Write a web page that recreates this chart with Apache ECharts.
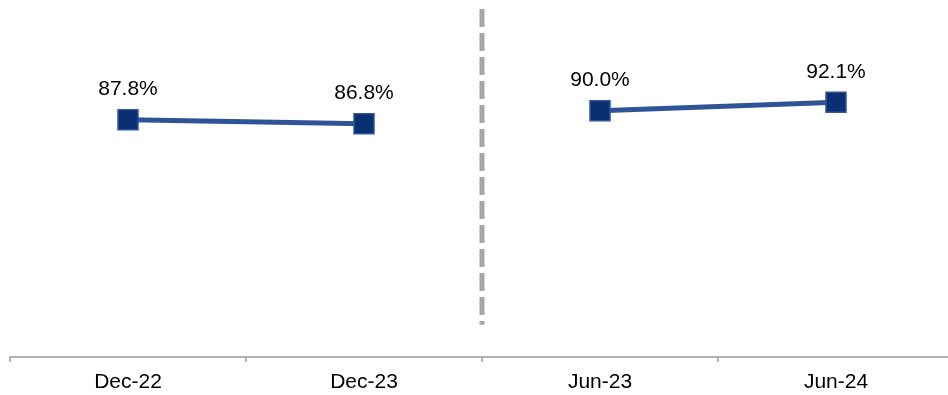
<!DOCTYPE html>
<html>
<head>
<meta charset="utf-8">
<script src="https://cdn.jsdelivr.net/npm/echarts@6/dist/echarts.min.js"></script>
<style>
  html, body { margin: 0; padding: 0; background: #fff; }
  #chart { width: 948px; height: 395px; }
</style>
</head>
<body>
<div id="chart"></div>
<script>
// categories and values
const categories = ['Dec-22', 'Dec-23', 'Jun-23', 'Jun-24'];
const decValues = [87.8, 86.8, null, null];
const junValues = [null, null, 90.0, 92.1];
// divider between the two periods (x on 0..4 band scale, y from/to)
const dividerX = 2;
const dividerY = [115, 37.4];

const chart = echarts.init(document.getElementById('chart'));

const lineStyle = { color: '#2f5496', width: 5 };
const itemStyle = { color: '#0a2f73', borderColor: '#2e5596', borderWidth: 1.5 };
const label = {
  show: true,
  position: 'top',
  distance: 9,
  color: '#000',
  fontSize: 21,
  fontFamily: 'Liberation Sans, Arial, sans-serif',
  formatter: function (p) { return p.value.toFixed(1) + '%'; }
};

const option = {
  backgroundColor: '#fff',
  animation: false,
  grid: { left: 10, width: 944, top: 9, bottom: 38, outerBoundsMode: 'none', containLabel: false },
  xAxis: [
    {
      type: 'category',
      data: categories,
      boundaryGap: true,
      axisLine: { lineStyle: { color: '#9a9a9a', width: 1.5 } },
      axisTick: { show: true, length: 5, lineStyle: { color: '#9a9a9a', width: 1.5 } },
      axisLabel: {
        color: '#000',
        fontSize: 21,
        margin: 15,
        fontFamily: 'Liberation Sans, Arial, sans-serif'
      }
    },
    { type: 'value', min: 0, max: 4, show: false }
  ],
  yAxis: {
    type: 'value',
    min: 29.5,
    max: 115,
    show: false,
    splitLine: { show: false }
  },
  series: [
    {
      type: 'line',
      data: decValues,
      symbol: 'rect',
      symbolSize: 20,
      lineStyle: lineStyle,
      itemStyle: itemStyle,
      label: label
    },
    {
      type: 'line',
      data: junValues,
      symbol: 'rect',
      symbolSize: 20,
      lineStyle: lineStyle,
      itemStyle: itemStyle,
      label: label
    },
    {
      type: 'line',
      xAxisIndex: 1,
      data: [[dividerX, dividerY[0]], [dividerX, dividerY[1]]],
      symbol: 'none',
      silent: true,
      z: 1,
      lineStyle: { color: '#a6a6a6', width: 5, type: [18, 6], cap: 'butt' }
    }
  ]
};

chart.setOption(option);
</script>
</body>
</html>
